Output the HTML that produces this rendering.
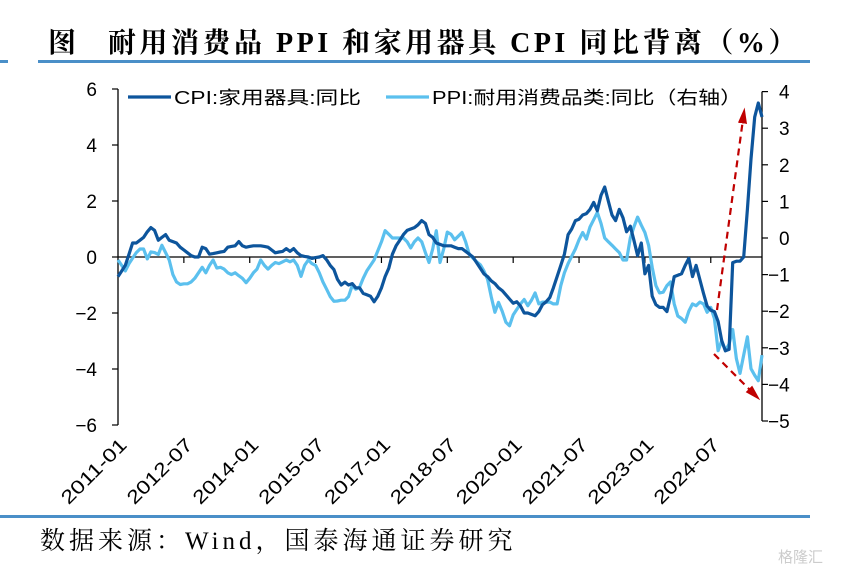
<!DOCTYPE html>
<html><head><meta charset="utf-8">
<style>
body{margin:0;background:#fff;}
#wrap{position:relative;width:847px;height:574px;overflow:hidden;background:#fff;}
.title{position:absolute;top:21px;font-family:"Liberation Serif","Noto Serif CJK SC",serif;font-weight:bold;font-size:28px;color:#000;white-space:nowrap;}
.rule{position:absolute;height:3px;background:#4a8fc8;}
.src{position:absolute;left:40px;top:521px;font-family:"Liberation Serif","Noto Serif CJK SC",serif;font-size:25px;letter-spacing:4px;color:#000;white-space:nowrap;}
.wm{position:absolute;left:778px;top:546px;font-family:"Liberation Sans","Noto Sans CJK SC",sans-serif;font-size:15px;color:#ccc;}
</style></head>
<body>
<div id="wrap">
<div class="title" style="left:48px">图</div>
<div class="title" style="left:108px;letter-spacing:3.5px">耐用消费品 PPI 和家用器具 CPI 同比背离（%）</div>
<div class="rule" style="left:0;width:8px;top:60px"></div>
<div class="rule" style="left:38px;width:772px;top:60px"></div>
<svg id="chart" width="847" height="574" style="position:absolute;left:0;top:0"></svg>
<div class="rule" style="left:0;width:810px;top:515px"></div>
<div class="src">数据来源：Wind，国泰海通证券研究</div>
<div class="wm">格隆汇</div>
</div>
<script>
const cpiValues=[-0.7,-0.5,-0.3,0.1,0.5,0.5,0.6,0.7,0.9,1.05,0.95,0.6,0.7,0.8,0.6,0.55,0.5,0.35,0.25,0.15,0.05,0,0,0.35,0.3,0.1,0.12,0.15,0.18,0.2,0.35,0.38,0.4,0.55,0.4,0.35,0.38,0.4,0.4,0.4,0.38,0.35,0.25,0.15,0.18,0.2,0.3,0.2,0.3,0.15,0.05,0.02,0,-0.05,-0.02,0,0.05,-0.1,-0.3,-0.45,-0.8,-1.0,-0.9,-1.0,-0.95,-1.1,-1.1,-1.3,-1.35,-1.4,-1.6,-1.4,-1.1,-0.7,-0.4,0.1,0.4,0.6,0.8,0.95,1.0,1.05,1.15,1.3,1.2,0.8,0.7,0.5,
0.45,0.4,0.4,0.4,0.35,0.3,0.3,0.2,0.1,0,-0.2,-0.4,-0.6,-0.7,-0.85,-0.95,-1.1,-1.2,-1.35,-1.5,-1.65,-1.6,-1.75,-2.0,-2.0,-2.05,-2.1,-1.95,-1.7,-1.6,-1.45,-1.1,-0.7,-0.3,0.1,0.8,1.0,1.3,1.35,1.5,1.55,1.7,1.95,1.65,2.2,2.5,2.0,1.5,1.3,1.7,1.4,0.9,1.1,0.6,0.05,0.5,-0.6,-0.3,-1.4,-1.7,-1.8,-1.8,-1.95,-1.4,-0.7,-0.65,-0.6,-0.3,-0.05,-0.7,-0.3,-0.8,-1.3,-1.75,-1.9,-1.95,-2.3,-3.0,-3.35,-3.3,-0.2,-0.15,-0.15,0,1.7,3.5,5.0,5.5,5.0];
const ppiValues=[-0.6,-0.75,-0.9,-0.7,-0.55,-0.4,-0.3,-0.3,-0.57,-0.38,-0.4,-0.45,-0.2,-0.4,-0.6,-1.0,-1.2,-1.27,-1.25,-1.25,-1.2,-1.1,-0.95,-0.8,-0.95,-0.75,-0.6,-0.82,-0.8,-0.85,-0.95,-1.0,-0.95,-1.03,-1.1,-1.22,-1.1,-0.95,-0.85,-0.6,-0.75,-0.85,-0.75,-0.67,-0.7,-0.65,-0.6,-0.65,-0.6,-0.75,-1.05,-0.75,-0.6,-0.7,-0.75,-0.95,-1.2,-1.4,-1.6,-1.73,-1.72,-1.7,-1.7,-1.6,-1.3,-1.4,-1.35,-1.1,-0.9,-0.75,-0.6,-0.35,-0.1,0.2,0.1,0,0,0,0,-0.1,-0.27,-0.1,0,-0.1,-0.4,-0.67,-0.3,0.2,
-0.67,-0.3,0.16,0.1,-0.05,0.05,0.15,-0.1,-0.45,-0.55,-0.65,-0.73,-0.9,-1.13,-1.6,-2.03,-1.76,-2.0,-2.3,-2.4,-2.1,-1.95,-1.8,-1.68,-1.85,-1.7,-1.5,-1.8,-1.75,-1.75,-1.75,-1.8,-1.8,-1.3,-0.95,-0.7,-0.5,-0.3,-0.05,0.15,-0.03,0.3,0.5,0.7,0.4,0,-0.1,-0.2,-0.3,-0.4,-0.6,-0.6,0,0.3,0.57,0.35,0.15,-0.2,-0.8,-1.3,-1.5,-1.48,-1.3,-1.2,-1.8,-2.13,-2.2,-2.3,-2.0,-1.8,-1.85,-1.75,-1.8,-2.03,-1.9,-2.2,-3.08,-2.8,-3.08,-2.9,-2.5,-3.3,-3.7,-3.2,-2.7,-3.57,-3.75,-3.9,-3.2];
const xTickLabels=["2011-01","2012-07","2014-01","2015-07","2017-01","2018-07","2020-01","2021-07","2023-01","2024-07"];
const leftTicks=[6,4,2,0,-2,-4,-6];
const rightTicks=[4,3,2,1,0,-1,-2,-3,-4,-5];

const NS="http://www.w3.org/2000/svg";
const svg=document.getElementById('chart');
const X0=118,XR=762,MW=(XR-X0)/176;
const xs=m=>X0+m*MW;
const yl=v=>257-v*28;
const yr=v=>238-v*36.6;
function mk(tag,attrs,parent){const e=document.createElementNS(NS,tag);for(const k in attrs)e.setAttribute(k,attrs[k]);(parent||svg).appendChild(e);return e;}
const font='"Liberation Sans","Noto Sans CJK SC",sans-serif';

let e=mk('line',{x1:X0,y1:yl(6),x2:X0,y2:yl(-6),stroke:'#000','stroke-width':1.3});


e=mk('line',{x1:XR,y1:yr(4),x2:XR,y2:yr(-5),stroke:'#000','stroke-width':1.3});


e=mk('line',{x1:X0,y1:yl(0),x2:XR,y2:yl(0),stroke:'#000','stroke-width':1.3});



leftTicks.forEach(v=>{
  mk('line',{x1:X0-6,y1:yl(v),x2:X0,y2:yl(v),stroke:'#000','stroke-width':1.2});
  const t=mk('text',{x:97,y:yl(v)+7,'text-anchor':'end','font-family':font,'font-size':19,fill:'#000'});
  t.textContent=v<0?'\u2212'+(-v):String(v);
  
  
});
rightTicks.forEach(v=>{
  mk('line',{x1:XR,y1:yr(v),x2:XR+6,y2:yr(v),stroke:'#000','stroke-width':1.2});
  const t=mk('text',{x:v<0?768:779,y:yr(v)+7,'text-anchor':'start','font-family':font,'font-size':19,fill:'#000'});
  t.textContent=v<0?'\u2212'+(-v):String(v);
  
  
});
xTickLabels.forEach((lab,i)=>{
  const x=xs(i*18);
  if(i>0) mk('line',{x1:x,y1:yl(0),x2:x,y2:yl(0)+6,stroke:'#000','stroke-width':1.2});
  const t=mk('text',{x:0,y:0,'text-anchor':'end','font-family':font,'font-size':19,fill:'#000',textLength:84,lengthAdjust:'spacingAndGlyphs',transform:`translate(${x+10},${446}) rotate(-45)`});
  t.textContent=lab;
  
  
});

function path(vals,yf){return vals.map((v,i)=>(i?'L':'M')+xs(i).toFixed(1)+' '+yf(v).toFixed(1)).join(' ');}
e=mk('path',{d:path(ppiValues,yr),fill:'none',stroke:'#5bc0ee','stroke-width':3.2,'stroke-linejoin':'round'});


e=mk('path',{d:path(cpiValues,yl),fill:'none',stroke:'#0d559c','stroke-width':3.2,'stroke-linejoin':'round'});



const defs=mk('defs',{});
const mrk=mk('marker',{id:'ah',markerWidth:16,markerHeight:14,viewBox:'0 0 14 8',refX:10,refY:4,orient:'auto',markerUnits:'userSpaceOnUse'},defs);
mk('path',{d:'M0 0 L14 4 L0 8 Z',fill:'#c00000'},mrk);
e=mk('line',{x1:717,y1:310,x2:744,y2:112,stroke:'#c00000','stroke-width':2.2,'stroke-dasharray':'7,5','marker-end':'url(#ah)'});


e=mk('line',{x1:714,y1:354,x2:757,y2:397,stroke:'#c00000','stroke-width':2.2,'stroke-dasharray':'7,5','marker-end':'url(#ah)'});



const lf='"Liberation Sans","Noto Sans CJK SC",sans-serif';
e=mk('line',{x1:128,y1:97,x2:171,y2:97,stroke:'#0d559c','stroke-width':3.2});


e=mk('text',{x:174,y:104,'font-family':lf,'font-size':18,fill:'#000',textLength:187,lengthAdjust:'spacingAndGlyphs'});
e.textContent='CPI:家用器具:同比';


e=mk('line',{x1:386,y1:97,x2:429,y2:97,stroke:'#5bc0ee','stroke-width':3.2});


e=mk('text',{x:432,y:104,'font-family':lf,'font-size':18,fill:'#000',textLength:310,lengthAdjust:'spacingAndGlyphs'});
e.textContent='PPI:耐用消费品类:同比（右轴）';


</script>
</body></html>
